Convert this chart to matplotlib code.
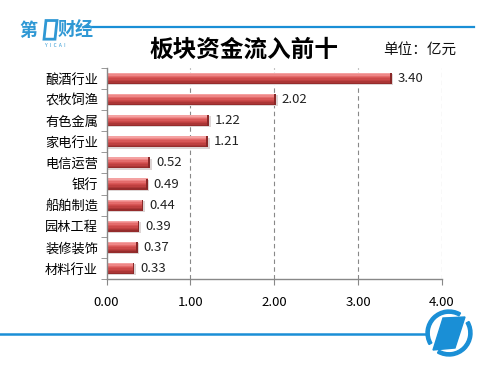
import matplotlib
matplotlib.use("Agg")
import matplotlib.pyplot as plt
from matplotlib.patches import Polygon, Wedge
from matplotlib.lines import Line2D
import numpy as np

plt.rcParams['font.family'] = ['Noto Sans CJK SC', 'DejaVu Sans']

categories = ["酿酒行业", "农牧饲渔", "有色金属", "家电行业", "电信运营",
              "银行", "船舶制造", "园林工程", "装修装饰", "材料行业"]
values = [3.40, 2.02, 1.22, 1.21, 0.52, 0.49, 0.44, 0.39, 0.37, 0.33]
xticks = [0.0, 1.0, 2.0, 3.0, 4.0]
xtick_labels = ["0.00", "1.00", "2.00", "3.00", "4.00"]
title = "板块资金流入前十"
unit = "单位：亿元"

fig = plt.figure(figsize=(5.0, 3.73), dpi=100)
fig.patch.set_facecolor("white")
ax = fig.add_axes([0.213, 0.252, 0.671, 0.566])

n = len(categories)
y = np.arange(n)[::-1]
bh = 0.52

# shadow
ax.barh(y - 0.06, values, height=bh, color="#ddd5d5", zorder=1, left=0.02)
# gradient bars via stacked strips
strip_cols = ["#f4a2a2", "#ee8787", "#e36b6b", "#d85757", "#cc4a4a",
              "#be4040", "#ab3636", "#952c2c"]
ns = len(strip_cols)
sh = bh / ns
for i, c in enumerate(strip_cols):
    yc = y + bh / 2 - sh * (i + 0.5)
    ax.barh(yc, values, height=sh * 1.02, color=c, zorder=2, linewidth=0)
# dark end cap
ax.barh(y, [0.02] * n, left=np.array(values) - 0.02, height=bh,
        color="#8a2828", zorder=3, linewidth=0)

for yi, v in zip(y, values):
    ax.text(v + 0.07, yi, f"{v:.2f}", va="center", ha="left", fontsize=9.5,
            color="#222222")

ax.set_xlim(0, 4.0)
ax.set_ylim(-0.5, n - 0.5)
ax.set_xticks(xticks)
ax.set_xticklabels(xtick_labels, fontsize=9.5)
ax.set_yticks(y)
ax.set_yticklabels(categories, fontsize=9.5)
ax.set_yticks(np.arange(-0.5, n, 1.0), minor=True)
ax.tick_params(axis="y", which="major", length=0, pad=6)
ax.tick_params(axis="y", which="minor", length=4, color="#888888", direction="out")
ax.tick_params(axis="x", length=4, color="#888888", pad=8)
for xv in xticks[1:]:
    ax.axvline(xv, color="#888888", linestyle=(0, (4, 3)), linewidth=0.8, zorder=0)
for s in ["top", "right"]:
    ax.spines[s].set_visible(False)
for s in ["left", "bottom"]:
    ax.spines[s].set_color("#888888")
    ax.spines[s].set_linewidth(1.0)

# title and unit
fig.text(0.488, 0.868, title, ha="center", va="center", fontsize=17,
         fontweight="bold", color="#000000")
fig.text(0.84, 0.866, unit, ha="center", va="center", fontsize=10.5,
         color="#111111")

blue = "#1a8fd6"
logo_blue = "#2f98d4"
# top line
fig.add_artist(Line2D([0.17, 0.948], [0.928, 0.928], color=blue, linewidth=1.6))
# logo top-left
fig.text(0.038, 0.918, "第", ha="left", va="center", fontsize=13,
         fontweight="bold", color=logo_blue)
fig.add_artist(Polygon([[0.092, 0.945], [0.114, 0.945], [0.110, 0.895], [0.088, 0.895]],
                       closed=True, fill=False, edgecolor=logo_blue, linewidth=2.0,
                       transform=fig.transFigure))
fig.text(0.116, 0.918, "财经", ha="left", va="center", fontsize=13,
         fontweight="bold", color=logo_blue)
fig.text(0.11, 0.878, "Y  I  C  A  I", ha="center", va="center", fontsize=3.5,
         color=logo_blue)

# bottom line
fig.add_artist(Line2D([0.0, 0.852], [0.1045, 0.1045], color=blue, linewidth=1.8))
# bottom-right logo
w, h = 500.0, 373.0
ax_logo = fig.add_axes([(449 - 26) / w, (373 - 333 - 26) / h, 52 / w, 52 / h])
ax_logo.set_xlim(-26, 26)
ax_logo.set_ylim(-26, 26)
ax_logo.set_aspect("equal")
ax_logo.axis("off")
ax_logo.add_patch(Wedge((0, 0), 23, 60, 210, width=3.2, color=blue))
ax_logo.add_patch(Wedge((0, 0), 23, 240, 30, width=3.2, color=blue))
ax_logo.add_patch(Polygon([[-6, 15], [16, 16], [6, -15], [-16, -17]], closed=True,
                          color=blue))

fig.savefig("out.png", dpi=100, facecolor="white")
